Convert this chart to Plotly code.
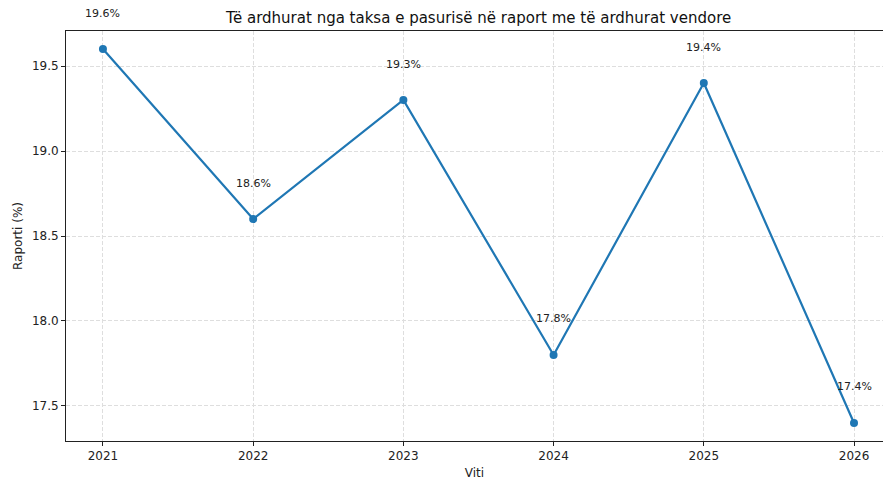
import plotly.graph_objects as go

years = [2021, 2022, 2023, 2024, 2025, 2026]
ratio = [19.6, 18.6, 19.3, 17.8, 19.4, 17.4]
y_ticks = [17.5, 18.0, 18.5, 19.0, 19.5]

line_color = "#1f77b4"
font_family = "DejaVu Sans"

fig = go.Figure()
fig.add_trace(go.Scatter(
    x=years, y=ratio, mode="lines+markers",
    line=dict(color=line_color, width=2.2),
    marker=dict(color=line_color, size=8),
    cliponaxis=False,
    hoverinfo="skip",
))

for x, v in zip(years, ratio):
    fig.add_annotation(
        x=x, y=v, xref="x", yref="y", text=f"{v}%",
        showarrow=False, yshift=36, yanchor="middle",
        font=dict(family=font_family, size=11, color="#222222"),
    )

grid = dict(showgrid=True, gridcolor="#dedede", griddash="4px,2px", gridwidth=0.8)

fig.update_layout(
    width=883, height=480,
    margin=dict(l=66, r=0, t=31, b=39),
    paper_bgcolor="white", plot_bgcolor="white",
    showlegend=False,
    font=dict(family=font_family, size=12, color="#222222"),
    title=dict(
        text="Të ardhurat nga taksa e pasurisë në raport me të ardhurat vendore",
        x=0.505, xref="paper", xanchor="center",
        y=1 - 18 / 480, yref="container", yanchor="middle",
        font=dict(family=font_family, size=15, color="#111111"),
    ),
    xaxis=dict(
        range=[2020.754, 2026.193], tickvals=years, ticktext=[str(y) for y in years],
        ticks="outside", ticklen=4, tickcolor="#222222",
        tickfont=dict(size=12),
        showline=True, linecolor="#222222", linewidth=1, mirror=True,
        zeroline=False,
        title=dict(text="Viti", font=dict(family=font_family, size=12), standoff=6),
        **grid,
    ),
    yaxis=dict(
        range=[17.294, 19.706], tickvals=y_ticks, ticktext=[f"{t:.1f}" for t in y_ticks],
        ticks="outside", ticklen=4, tickcolor="#222222",
        tickfont=dict(size=12),
        showline=True, linecolor="#222222", linewidth=1, mirror=False,
        zeroline=False,
        title=dict(text="Raporti (%)", font=dict(family=font_family, size=12), standoff=6),
        **grid,
    ),
)

fig.write_html("out.html")
